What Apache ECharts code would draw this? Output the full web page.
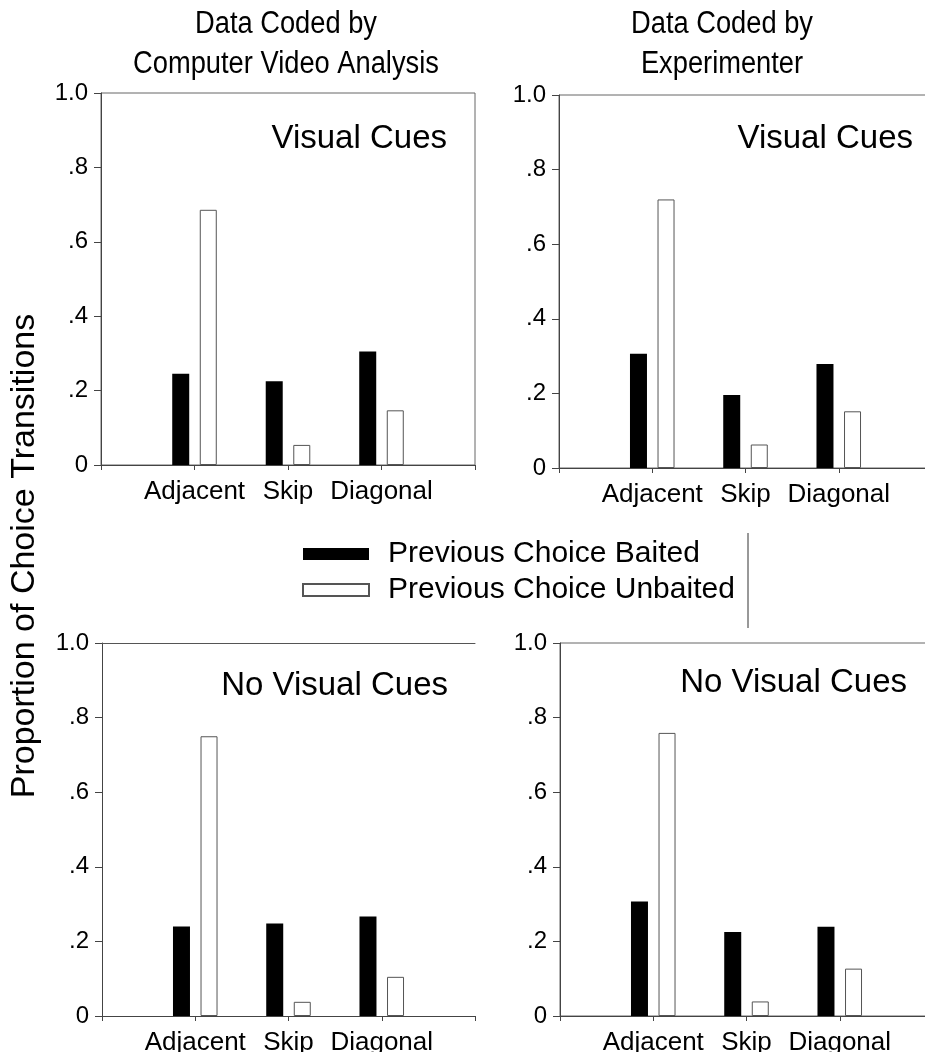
<!DOCTYPE html>
<html>
<head>
<meta charset="utf-8">
<script src="https://cdn.jsdelivr.net/npm/echarts@6/dist/echarts.min.js"></script>
<style>
html,body{margin:0;padding:0;background:#fff;}
#chart{width:925px;height:1052px;}
</style>
</head>
<body>
<div id="chart"></div>
<script>
// ---- data ----
const categories = ['', 'Adjacent', 'Skip', 'Diagonal', ''];
const yTickLabels = ['0', '.2', '.4', '.6', '.8', '1.0'];
const seriesNames = ['Previous Choice Baited', 'Previous Choice Unbaited'];
const columnTitles = ['Data Coded by\nComputer Video Analysis', 'Data Coded by\nExperimenter'];
const panelLabels = ['Visual Cues', 'Visual Cues', 'No Visual Cues', 'No Visual Cues'];
const yAxisTitle = 'Proportion of Choice Transitions';

const baitedVideoVisual     = [0.245, 0.225, 0.305];
const unbaitedVideoVisual   = [0.686, 0.054, 0.147];
const baitedExpVisual       = [0.306, 0.196, 0.279];
const unbaitedExpVisual     = [0.720, 0.063, 0.152];
const baitedVideoNoVisual   = [0.240, 0.248, 0.267];
const unbaitedVideoNoVisual = [0.750, 0.038, 0.105];
const baitedExpNoVisual     = [0.307, 0.225, 0.239];
const unbaitedExpNoVisual   = [0.759, 0.039, 0.127];

const panelData = [
  [baitedVideoVisual, unbaitedVideoVisual],
  [baitedExpVisual, unbaitedExpVisual],
  [baitedVideoNoVisual, unbaitedVideoNoVisual],
  [baitedExpNoVisual, unbaitedExpNoVisual]
];

// ---- layout ----
const FONT = "'Liberation Sans', Arial, Helvetica, sans-serif";
const grids = [
  {left: 101, top: 93,  width: 374, height: 372},
  {left: 559, top: 95,  width: 373, height: 373},
  {left: 102, top: 643, width: 373, height: 373},
  {left: 560, top: 643, width: 373, height: 373}
];
const labelPos = [
  {x: 447, y: 139}, {x: 913, y: 139}, {x: 448, y: 686}, {x: 907, y: 683}
];

const chart = echarts.init(document.getElementById('chart'), null, {renderer: 'canvas'});

const gridOpts = grids.map((g, i) => Object.assign({
  show: i !== 2, borderColor: '#666', borderWidth: 1, backgroundColor: 'transparent',
  containLabel: false, outerBoundsMode: 'none'
}, g));

const xAxes = [];
const yAxes = [];
const series = [];
grids.forEach((g, i) => {
  xAxes.push({
    type: 'category', gridIndex: i, data: categories, boundaryGap: false,
    axisLine: {show: true, lineStyle: {color: '#444', width: 1}},
    axisTick: {show: true, inside: false, length: 5, interval: 0, lineStyle: {color: '#444'}},
    axisLabel: {show: true, interval: 0, margin: 14, color: '#000', fontSize: 26, fontFamily: FONT},
    splitLine: {show: false}
  });
  yAxes.push({
    type: 'value', gridIndex: i, min: 0, max: 1, interval: 0.2,
    axisLine: {show: true, lineStyle: {color: '#444', width: 1}},
    axisTick: {show: true, inside: false, length: 7, lineStyle: {color: '#444'}},
    axisLabel: {show: true, margin: 13, color: '#000', fontSize: 24, fontFamily: FONT,
      formatter: v => yTickLabels[Math.round(v / 0.2)]},
    splitLine: {show: false}
  });
  const [b, u] = panelData[i];
  series.push({
    name: seriesNames[0], type: 'bar', xAxisIndex: i, yAxisIndex: i,
    data: [null].concat(b, [null]),
    barWidth: 17, barGap: '62%',
    itemStyle: {color: '#000', borderColor: '#000', borderWidth: 0},
    emphasis: {disabled: true}, animation: false
  });
  series.push({
    name: seriesNames[1], type: 'bar', xAxisIndex: i, yAxisIndex: i,
    data: [null].concat(u, [null]),
    barWidth: 17, barGap: '62%',
    itemStyle: {color: '#fff', borderColor: '#555', borderWidth: 1},
    emphasis: {disabled: true}, animation: false
  });
});
// top line for bottom-left panel
xAxes.push({
  type: 'value', gridIndex: 2, position: 'top', min: 0, max: 1,
  axisLine: {show: true, lineStyle: {color: '#555', width: 1}},
  axisTick: {show: false}, axisLabel: {show: false}, splitLine: {show: false}
});

const graphics = [];
columnTitles.forEach((t, i) => {
  const lines = t.split('\n');
  const cx = i === 0 ? 286 : 722;
  lines.forEach((ln, k) => {
    graphics.push({type: 'text', x: cx, y: 24 + k * 40, scaleX: 0.88,
      style: {text: ln, fill: '#000', font: '31px ' + FONT, align: 'center', verticalAlign: 'middle'}});
  });
});
panelLabels.forEach((t, i) => {
  graphics.push({type: 'text', x: labelPos[i].x, y: labelPos[i].y,
    style: {text: t, fill: '#000', font: '33px ' + FONT, align: 'right', verticalAlign: 'middle'}});
});
graphics.push({type: 'text', x: 25, y: 556, rotation: Math.PI / 2,
  style: {text: yAxisTitle, fill: '#000', font: '34px ' + FONT, align: 'center', verticalAlign: 'middle'}});
graphics.push({type: 'line', shape: {x1: 748, y1: 533, x2: 748, y2: 628},
  style: {stroke: '#333', lineWidth: 1}});

chart.setOption({
  animation: false,
  backgroundColor: '#fff',
  textStyle: {fontFamily: FONT},
  grid: gridOpts,
  xAxis: xAxes,
  yAxis: yAxes,
  legend: {
    data: seriesNames, orient: 'vertical', left: 302, top: 536, padding: 0,
    itemWidth: 66, itemHeight: 12, itemGap: 0, icon: 'rect',
    selectedMode: false,
    textStyle: {fontSize: 30, lineHeight: 36, color: '#000', fontFamily: FONT, padding: [0, 0, 0, 14]}
  },
  graphic: graphics,
  series: series
});
</script>
</body>
</html>
